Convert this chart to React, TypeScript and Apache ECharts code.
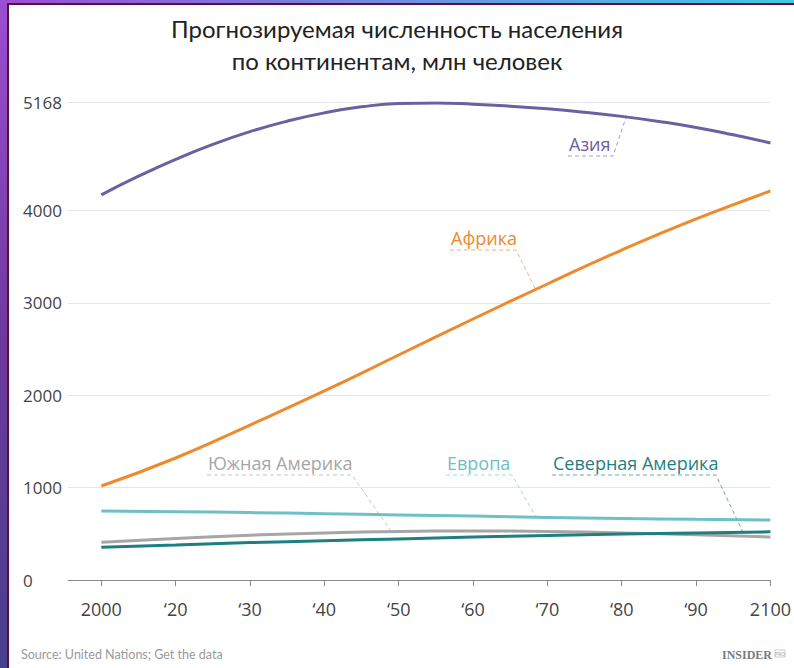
import React, { useEffect, useRef } from "react";
import * as echarts from "echarts";

const years = [2010, 2020, 2030, 2040, 2050, 2060, 2070, 2080, 2090, 2100];
const years5 = [2010, 2015, 2020, 2025, 2030, 2035, 2040, 2045, 2050, 2055, 2060, 2065, 2070, 2075, 2080, 2085, 2090, 2095, 2100];
const xTickLabels = ["2000", "\u201820", "\u201830", "\u201840", "\u201850", "\u201860", "\u201870", "\u201880", "\u201890", "2100"];
const yTicks = [0, 1000, 2000, 3000, 4000, 5168];

// Asia read every 5 years (years5), others every 10 years (years)
const asia = [4170, 4372, 4555, 4717, 4855, 4968, 5058, 5123, 5160, 5166, 5152, 5130, 5102, 5065, 5020, 4965, 4900, 4820, 4732];
const africa = [1018, 1321, 1678, 2047, 2436, 2826, 3205, 3573, 3909, 4212];
const europe = [748, 740, 730, 718, 705, 692, 678, 666, 657, 650];
const southAmerica = [410, 450, 485, 510, 525, 530, 525, 510, 490, 466];
const northAmerica = [355, 380, 405, 425, 445, 465, 482, 498, 510, 522];

const seriesNames = ["Азия", "Африка", "Европа", "Южная Америка", "Северная Америка"];
const seriesColors = ["#6d5fa0", "#ee8a2e", "#6dc0c6", "#a6a6a6", "#1e7f82"];
const leaderColors = ["#a59cc8", "#f1b27a", "#a8d9dd", "#c6c6c6", "#6aa8aa"];
const seriesValues = [asia, africa, europe, southAmerica, northAmerica];
const seriesYears = [years5, years, years, years, years];

// annotation anchors on lines (data coords) and label placement (px)
const annotAnchors: [number, number][] = [[2080.6, 5014], [2068.4, 3150], [2068.4, 690], [2049, 525], [2096.3, 518]];
const annotLabelPos: [number, number, number][] = [
  [568, 156, 45],
  [450, 250, 66],
  [446, 475, 66],
  [207, 475, 145],
  [552, 475, 164],
];

const FONT = "'Open Sans', sans-serif";
const FONT2 = "Lato, sans-serif";

export default function App() {
  const ref = useRef<HTMLDivElement>(null);
  useEffect(() => {
    document.body.style.margin = "0";
    const chart = echarts.init(ref.current!, null, { renderer: "svg" });
    const option: any = {
      animation: false,
      backgroundColor: "#ffffff",
      title: {
        text: "Прогнозируемая численность населения\nпо континентам, млн человек",
        left: "center",
        top: 7,
        textStyle: { fontFamily: FONT2, fontSize: 24, fontWeight: "normal", color: "#222", lineHeight: 32 },
      },
      grid: { left: 68, right: 9, top: 102.7, bottom: 88, containLabel: false },
      xAxis: {
        type: "value",
        min: 2005.52,
        max: 2100,
        splitLine: { show: false },
        axisLine: { show: true, lineStyle: { color: "#8a8a8a", width: 1 } },
        axisTick: { show: true, customValues: years, length: 6, lineStyle: { color: "#8a8a8a" } },
        axisLabel: {
          customValues: years,
          margin: 20,
          fontFamily: FONT,
          fontSize: 18,
          color: "#444",
          formatter: (v: number) => xTickLabels[years.indexOf(Math.round(v))] ?? "",
        },
      },
      yAxis: {
        type: "value",
        min: 0,
        max: 5168,
        axisLine: { show: false },
        axisTick: { show: false, customValues: yTicks },
        splitLine: { show: true, lineStyle: { color: "#e6e6e6", width: 1 } },
        axisLabel: {
          customValues: yTicks,
          align: "left",
          margin: 45,
          fontFamily: FONT,
          fontSize: 17,
          color: "#444",
          formatter: (v: number) => String(Math.round(v)),
        },
      },
      series: seriesNames.map((n, i) => ({
        name: n,
        type: "line",
        smooth: 0.5,
        showSymbol: false,
        symbol: "none",
        data: seriesYears[i].map((y, j) => [y, seriesValues[i][j]]),
        lineStyle: { color: seriesColors[i], width: 3 },
        z: i === 4 ? 3 : 2,
      })),
    };
    chart.setOption(option);

    const graphics: any[] = [];
    // page frame
    graphics.push({
      type: "rect", shape: { x: 0, y: 0, width: 7, height: 668 }, silent: true,
      style: { fill: new echarts.graphic.LinearGradient(0, 0, 0, 1, [
        { offset: 0, color: "#9a4fd2" }, { offset: 0.5, color: "#6e3a9c" }, { offset: 1, color: "#46408e" }]) },
    });
    graphics.push({
      type: "rect", shape: { x: 0, y: 0, width: 794, height: 3 }, silent: true,
      style: { fill: new echarts.graphic.LinearGradient(0, 0, 1, 0, [
        { offset: 0, color: "#9a4fd2" }, { offset: 0.5, color: "#6f8ee0" }, { offset: 1, color: "#3fcbe0" }]) },
    });
    graphics.push({ type: "rect", shape: { x: 7, y: 3, width: 2, height: 665 }, silent: true, style: { fill: "#5c0d3c" } });
    graphics.push({ type: "rect", shape: { x: 7, y: 3, width: 787, height: 2 }, silent: true, style: { fill: "#5c0d3c" } });

    annotAnchors.forEach((a, i) => {
      const p = chart.convertToPixel({ gridIndex: 0 }, a) as number[];
      const [lx, ly, w] = annotLabelPos[i];
      graphics.push({
        type: "polyline", silent: true,
        shape: { points: [[lx, ly], [lx + w, ly], [p[0], p[1]]] },
        style: { stroke: leaderColors[i], lineWidth: 1, lineDash: [4, 3], fill: null },
      });
      graphics.push({
        type: "text", silent: true, x: lx + 1, y: ly - 3,
        style: { text: seriesNames[i], fill: seriesColors[i], font: `18px ${FONT}`, textAlign: "left", textVerticalAlign: "bottom" },
      });
    });

    graphics.push({
      type: "text", silent: true, x: 21, y: 654,
      style: { text: "Source: United Nations; Get the data", fill: "#9a9a9a", font: `12.5px ${FONT2}`, textVerticalAlign: "middle" },
    });
    graphics.push({
      type: "text", silent: true, x: 722, y: 655,
      style: { text: "INSIDER", fill: "#7a7a7a", font: `bold 12px 'Liberation Serif', serif`, textVerticalAlign: "middle" },
    });
    graphics.push({
      type: "rect", silent: true, shape: { x: 775, y: 650, width: 10, height: 7 },
      style: { fill: "none", stroke: "#aaa", lineWidth: 0.6 },
    });
    graphics.push({
      type: "text", silent: true, x: 780, y: 653.7,
      style: { text: "PRO", fill: "#999", font: `5px ${FONT}`, textAlign: "center", textVerticalAlign: "middle" },
    });

    chart.setOption({ graphic: graphics });
    return () => chart.dispose();
  }, []);
  return <div ref={ref} style={{ width: 794, height: 668 }} />;
}
